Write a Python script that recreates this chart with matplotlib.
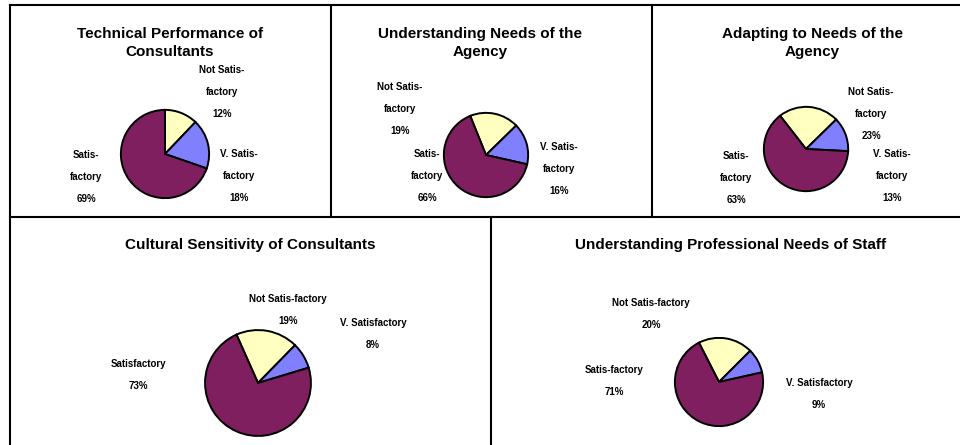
import matplotlib
matplotlib.use("Agg")
import matplotlib.pyplot as plt
from matplotlib.lines import Line2D

plt.rcParams['font.family'] = ['Liberation Sans', 'DejaVu Sans']

# ---- data ----
titles = [
    "Technical Performance of\nConsultants",
    "Understanding Needs of the\nAgency",
    "Adapting to Needs of the\nAgency",
    "Cultural Sensitivity of Consultants",
    "Understanding Professional Needs of Staff",
]
categories = ["Not Satisfactory", "V. Satisfactory", "Satisfactory"]
not_satisfactory = [12, 19, 23, 19, 20]
v_satisfactory = [18, 16, 13, 8, 9]
satisfactory = [69, 66, 63, 73, 71]
label_names = [
    ["Not Satis-\nfactory", "V. Satis-\nfactory", "Satis-\nfactory"],
    ["Not Satis-\nfactory", "V. Satis-\nfactory", "Satis-\nfactory"],
    ["Not Satis-\nfactory", "V. Satis-\nfactory", "Satis-\nfactory"],
    ["Not Satis-factory", "V. Satisfactory", "Satisfactory"],
    ["Not Satis-factory", "V. Satisfactory", "Satis-factory"],
]

# ---- style / layout ----
colors = ["#FFFFC0", "#8080FF", "#7F1F5F"]
W, H = 960, 445
start_angles = [90, 112, 128, 114, 117]
# pie centre (x, y) and radius in pixels (top-left origin)
pies = [(165, 154, 45), (486, 155, 43), (806, 149, 43), (258, 383, 54), (719, 382, 45)]
title_pos = [(170, 43), (480, 43), (812, 43), (250, 245), (731, 245)]
label_pos = [
    [(222, 92), (239, 176), (86, 177)],
    [(400, 109), (559, 169), (427, 176)],
    [(871, 114), (892, 176), (736, 178)],
    [(288, 310), (373, 334), (138, 375)],
    [(651, 314), (819, 394), (614, 381)],
]

fig = plt.figure(figsize=(W / 100, H / 100), dpi=100)
fig.patch.set_facecolor("white")

def fx(x):
    return x / W

def fy(y):
    return 1 - y / H

for i in range(5):
    vals = [not_satisfactory[i], v_satisfactory[i], satisfactory[i]]
    cx, cy, r = pies[i]
    ax = fig.add_axes([fx(cx - r), fy(cy + r), 2 * r / W, 2 * r / H])
    ax.pie(vals, colors=colors, startangle=start_angles[i], counterclock=False,
           radius=1, wedgeprops=dict(edgecolor="black", linewidth=1.4))
    ax.set_xlim(-1.02, 1.02)
    ax.set_ylim(-1.02, 1.02)
    ax.set_aspect("equal")
    ax.axis("off")
    tx, ty = title_pos[i]
    fig.text(fx(tx), fy(ty), titles[i], ha="center", va="center",
             fontsize=11, fontweight="bold", linespacing=1.45)
    for j in range(3):
        lx, ly = label_pos[i][j]
        fig.text(fx(lx), fy(ly), f"{label_names[i][j]}\n{vals[j]}%",
                 ha="center", va="center", fontsize=7, fontweight="bold",
                 linespacing=2.45, color="black")

# panel borders
def hline(x0, x1, y):
    fig.add_artist(Line2D([fx(x0), fx(x1)], [fy(y), fy(y)], color="black", lw=1.5))

def vline(x, y0, y1):
    fig.add_artist(Line2D([fx(x), fx(x)], [fy(y0), fy(y1)], color="black", lw=1.5))

hline(10, 960, 5)
hline(10, 960, 217)
vline(10, 5, 445)
vline(331, 5, 217)
vline(652, 5, 217)
vline(491, 217, 445)

fig.savefig("out.png", dpi=100, facecolor="white")
